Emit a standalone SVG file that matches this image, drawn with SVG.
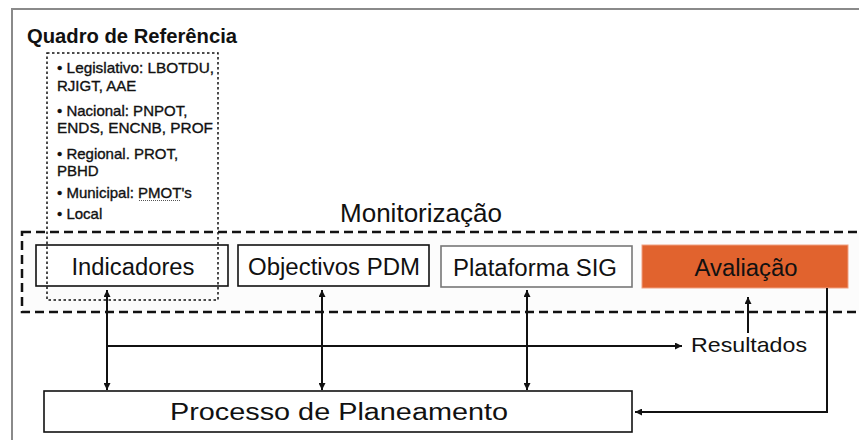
<svg xmlns="http://www.w3.org/2000/svg" width="859" height="440" viewBox="0 0 859 440">
<defs>
<style>
.frame{fill:none;stroke:#8a8a8a;stroke-width:2}
.box{fill:#ffffff;stroke:#111;stroke-width:1.6}
.lbl{font-family:"Liberation Sans",Arial,sans-serif;font-size:23px;fill:#111;text-anchor:middle}
.list{font-family:"Liberation Sans",Arial,sans-serif;font-size:15px;fill:#111;stroke:#111;stroke-width:0.35}
.conn{fill:none;stroke:#111;stroke-width:2}
</style>
<marker id="ah" viewBox="0 0 10 10" refX="10" refY="5" markerWidth="7" markerHeight="7" markerUnits="userSpaceOnUse" orient="auto-start-reverse">
<path d="M0,0 L10,5 L0,10 z" fill="#111"/>
</marker>
</defs>
<rect width="859" height="440" fill="#ffffff"/>
<path class="frame" d="M12,440 L12,9 L859,9"/>

<g id="monitorizacao">
<rect x="22" y="232" width="860" height="80" fill="#fcfcfc" stroke="#111" stroke-width="2.5" stroke-dasharray="9,5"/>
<text x="340" y="222" font-family="Liberation Sans,Arial,sans-serif" font-size="25" fill="#111" textLength="162" lengthAdjust="spacingAndGlyphs">Monitorização</text>
</g>

<g id="indicadores">
<rect class="box" x="36" y="245" width="192" height="41"/>
<text class="lbl" x="133" y="275" textLength="123" lengthAdjust="spacingAndGlyphs">Indicadores</text>
</g>

<g id="objectivos">
<rect class="box" x="238" y="245" width="191" height="41"/>
<text class="lbl" x="334" y="275" textLength="172" lengthAdjust="spacingAndGlyphs">Objectivos PDM</text>
</g>

<g id="plataforma">
<rect x="441" y="246" width="191" height="41" fill="#ffffff" stroke="#777" stroke-width="1.6"/>
<text class="lbl" x="535" y="276" textLength="164" lengthAdjust="spacingAndGlyphs">Plataforma SIG</text>
</g>

<g id="avaliacao">
<rect x="642" y="245" width="206" height="43" fill="#e1632e" stroke="#f0a080" stroke-width="1"/>
<text class="lbl" x="746" y="276" fill="#222" textLength="103" lengthAdjust="spacingAndGlyphs">Avaliação</text>
</g>

<g id="quadro">
<text x="27" y="43" font-family="Liberation Sans,Arial,sans-serif" font-size="20" font-weight="bold" fill="#111" textLength="210" lengthAdjust="spacingAndGlyphs">Quadro de Referência</text>
<rect x="47" y="53" width="171" height="247" fill="none" stroke="#111" stroke-width="1.5" stroke-dasharray="2.5,2.5"/>
<text class="list" x="57" y="73" textLength="157" lengthAdjust="spacingAndGlyphs">• Legislativo: LBOTDU,</text>
<text class="list" x="57" y="91">RJIGT, AAE</text>
<text class="list" x="57" y="116">• Nacional: PNPOT,</text>
<text class="list" x="57" y="133" textLength="156" lengthAdjust="spacingAndGlyphs">ENDS, ENCNB, PROF</text>
<text class="list" x="57" y="159">• Regional. PROT,</text>
<text class="list" x="57" y="176">PBHD</text>
<text class="list" x="57" y="198">• Municipal: PMOT's</text>
<line x1="139" y1="200.5" x2="181" y2="200.5" stroke="#555" stroke-width="1" stroke-dasharray="1,1"/>
<text class="list" x="57" y="219">• Local</text>
</g>

<g id="processo">
<rect class="box" x="44" y="391" width="588" height="41"/>
<text class="lbl" x="339" y="420" font-size="26" textLength="338" lengthAdjust="spacingAndGlyphs">Processo de Planeamento</text>
</g>

<g id="resultados">
<text x="691" y="352" font-family="Liberation Sans,Arial,sans-serif" font-size="21" fill="#111" textLength="116" lengthAdjust="spacingAndGlyphs">Resultados</text>
</g>

<g id="connectors">
<line class="conn" x1="107" y1="290" x2="107" y2="390" marker-start="url(#ah)" marker-end="url(#ah)"/>
<line class="conn" x1="322" y1="290" x2="322" y2="390" marker-start="url(#ah)" marker-end="url(#ah)"/>
<line class="conn" x1="527" y1="290" x2="527" y2="390" marker-start="url(#ah)" marker-end="url(#ah)"/>
<line class="conn" x1="107" y1="346" x2="682" y2="346" marker-end="url(#ah)"/>
<line class="conn" x1="748" y1="333" x2="748" y2="297" marker-end="url(#ah)"/>
<polyline class="conn" points="827,288 827,412 635,412" marker-end="url(#ah)"/>
</g>
</svg>
